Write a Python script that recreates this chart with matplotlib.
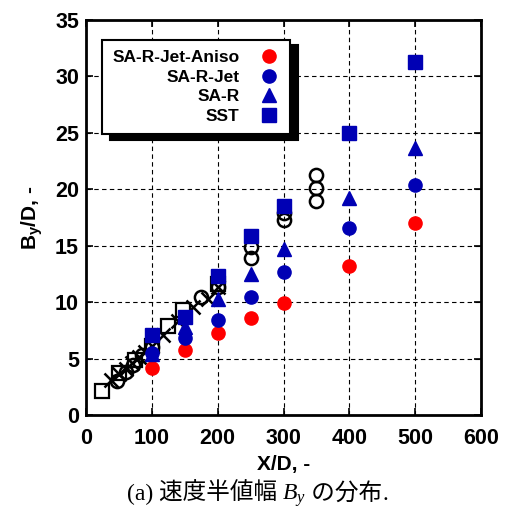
import matplotlib
matplotlib.use("Agg")
import matplotlib.pyplot as plt

plt.rcParams["font.family"] = ["Liberation Sans", "DejaVu Sans"]
plt.rcParams["mathtext.fontset"] = "custom"
plt.rcParams["mathtext.it"] = "Liberation Serif:italic"
plt.rcParams["mathtext.rm"] = "Liberation Serif"

# Simulation stations X/D
x_sim = [100, 150, 200, 250, 300, 400, 500]
aniso = [4.2, 5.8, 7.25, 8.6, 9.95, 13.2, 17.0]
jet = [5.5, 6.8, 8.4, 10.5, 12.65, 16.6, 20.4]
sar = [5.4, 7.8, 10.25, 12.5, 14.7, 19.25, 23.7]
sst = [7.1, 8.7, 12.3, 15.9, 18.5, 25.0, 31.3]

# Experimental half-widths
exp_sq_x = [25, 50, 75, 100, 125, 148, 200]
exp_sq_y = [2.1, 3.7, 4.9, 6.1, 7.9, 9.3, 11.6]
exp_ci_x = [47, 60, 72, 85, 100, 175, 200, 250, 250, 300, 300, 350, 350, 350]
exp_ci_y = [3.0, 3.8, 4.4, 5.3, 6.0, 10.5, 11.3, 13.9, 14.9, 17.3, 17.9, 19.0, 20.1, 21.3]
exp_x_x = [38, 50, 60, 70, 80, 90, 100, 117, 140, 162, 185, 200]
exp_x_y = [3.1, 3.6, 4.1, 4.6, 5.1, 5.6, 6.1, 7.1, 8.3, 9.6, 10.3, 11.3]

red = "#ff0000"
blue = "#0000b4"

fig = plt.figure(figsize=(5.15, 5.14), dpi=100)
ax = fig.add_axes([86 / 515, 99 / 514, 395 / 515, 395 / 514])

ax.grid(True, color="black", linestyle=(0, (4, 3)), linewidth=0.8)
ax.set_axisbelow(True)

ms = 9.5
ax.plot(exp_sq_x, exp_sq_y, "s", ms=ms, mfc="white", mec="black", mew=1.6, ls="none", zorder=3)
ax.plot(exp_ci_x, exp_ci_y, "o", ms=ms, mfc="none", mec="black", mew=1.8, ls="none", zorder=3)
ax.plot(exp_x_x, exp_x_y, "x", ms=ms + 1, mec="black", mew=1.8, ls="none", zorder=3)

h1, = ax.plot(x_sim, aniso, "o", ms=ms, color=red, ls="none", zorder=4, label="SA-R-Jet-Aniso")
h2, = ax.plot(x_sim, jet, "o", ms=ms, color=blue, ls="none", zorder=4, label="SA-R-Jet")
h3, = ax.plot(x_sim, sar, "^", ms=ms + 0.5, color=blue, ls="none", zorder=4, label="SA-R")
h4, = ax.plot(x_sim, sst, "s", ms=ms, color=blue, ls="none", zorder=4, label="SST")

ax.set_xlim(0, 600)
ax.set_ylim(0, 35)
ax.set_xticks(range(0, 601, 100))
ax.set_yticks(range(0, 36, 5))
ax.tick_params(direction="in", length=5, width=1.2, top=True, right=True,
               labelsize=15.5)
ax.tick_params(axis="x", pad=9)
ax.tick_params(axis="y", pad=5)
for lab in ax.get_xticklabels() + ax.get_yticklabels():
    lab.set_fontweight("bold")
for sp in ax.spines.values():
    sp.set_linewidth(2)

ax.set_xlabel("X/D, -", fontsize=15, fontweight="bold", labelpad=5)
ax.set_ylabel(r"B$_\mathregular{y}$/D, -", fontsize=15, fontweight="bold", labelpad=7)

leg = ax.legend(handles=[h1, h2, h3, h4], loc="upper left", bbox_to_anchor=(0.04, 0.95),
                borderaxespad=0, markerfirst=False, fancybox=False,
                shadow={"color": "black", "alpha": 1, "ox": 6, "oy": -4},
                prop={"weight": "bold", "size": 12.5}, handletextpad=1.1,
                handlelength=1.2, labelspacing=0.25, framealpha=1, edgecolor="black",
                borderpad=0.6)
leg.get_frame().set_linewidth(1.5)
leg.set_zorder(10)

# Caption built from pieces so the CJK text can use its own font
cap_font = dict(fontsize=17, va="baseline")
pieces = [
    ("(a) ", ["Liberation Serif"]),
    ("速度半値幅 ", ["Noto Sans CJK JP"]),
    (r"$B_y$", ["Liberation Serif"]),
    (" の分布", ["Noto Sans CJK JP"]),
    (".", ["Liberation Serif"]),
]
renderer = fig.canvas.get_renderer()
texts = []
for s, fam in pieces:
    texts.append(fig.text(0, 0.028, s, family=fam, **cap_font))
widths = [t.get_window_extent(renderer).width for t in texts]
total = sum(widths)
x0 = (fig.bbox.width - total) / 2
for t, w in zip(texts, widths):
    t.set_x(x0 / fig.bbox.width)
    x0 += w

fig.savefig("out.png", dpi=100)
